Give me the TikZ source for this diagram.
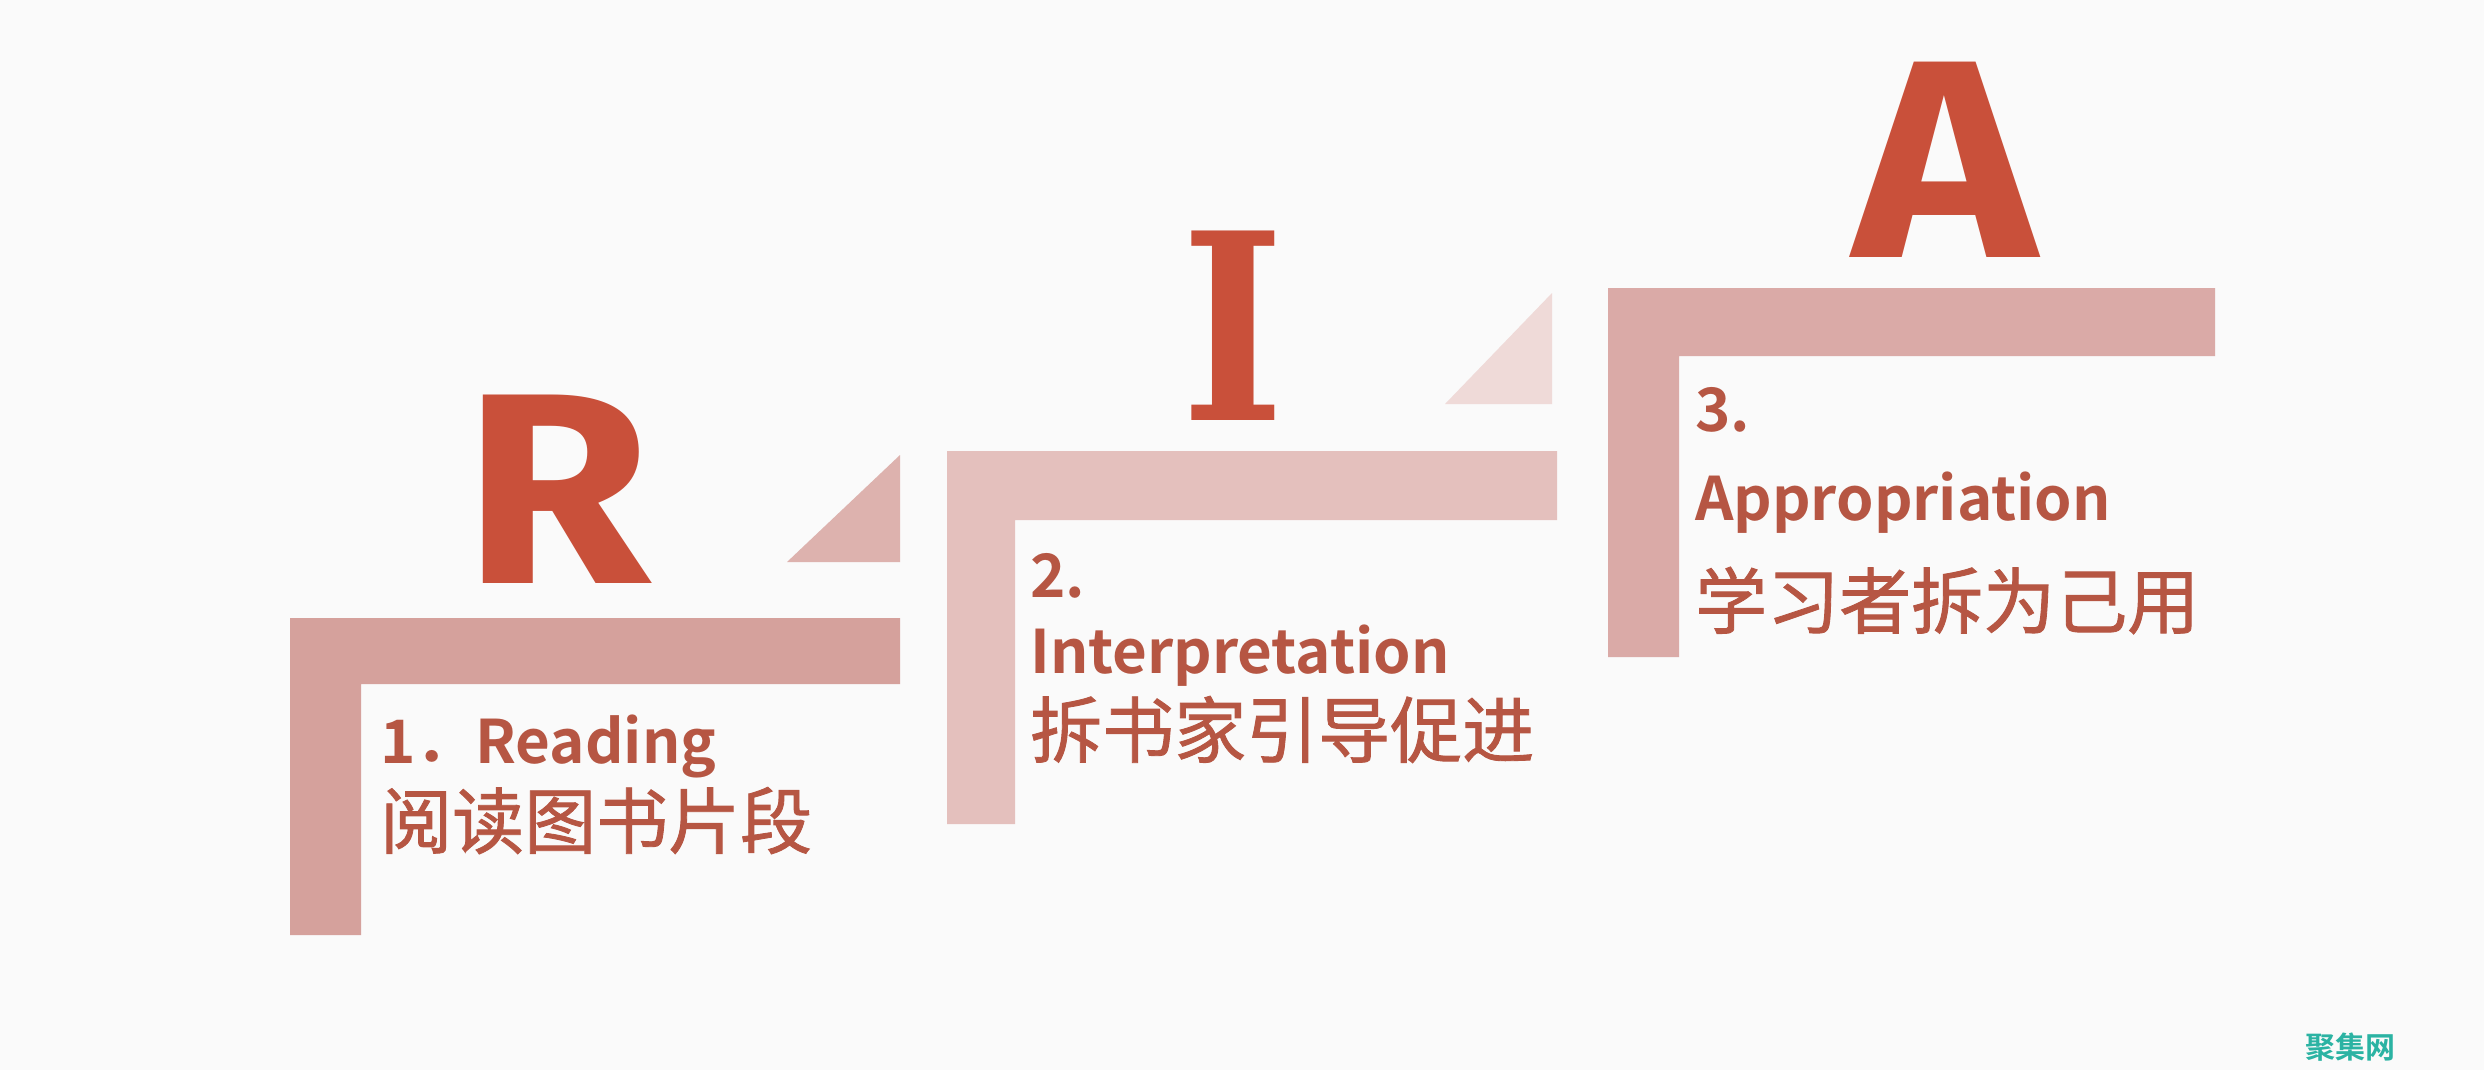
\documentclass[tikz,border=0pt]{standalone}
\usepackage{fontspec}
\setmainfont{Fira Sans}
\newfontfamily\cjk[FakeBold=1.2]{Noto Sans CJK SC}
\newfontfamily\cjkb{Noto Sans CJK SC Bold}
\newfontfamily\letterfont{Fira Sans Bold}
\newfontfamily\serifletter{DejaVu Serif Bold}
\definecolor{bg}{HTML}{FAFAFA}
\definecolor{barA}{HTML}{D5A19C}
\definecolor{barB}{HTML}{E4C0BD}
\definecolor{barC}{HTML}{DAAAA7}
\definecolor{triA}{HTML}{DDB2AE}
\definecolor{triB}{HTML}{EFDAD8}
\definecolor{letter}{HTML}{C9503A}
\definecolor{txt}{HTML}{B65643}
\definecolor{mark}{HTML}{2BB3A3}
\tikzset{
  bigletter/.style={inner sep=0pt, anchor=base, text=letter},
  labeltext/.style={inner sep=0pt, anchor=base west, text=txt, font=\cjkb\fontsize{60}{62}\selectfont},
  cntext/.style={inner sep=0pt, anchor=base west, text=txt, font=\cjk\fontsize{72}{74}\selectfont},
}
\begin{document}
\begin{tikzpicture}[x=1pt,y=-1pt]
\useasboundingbox (0,0) rectangle (2484,1070);
\fill[bg] (0,0) rectangle (2484,1070);
% Step 1
\fill[barA] (290,618) -- (900,618) -- (900,684) -- (361,684) -- (361,935) -- (290,935) -- cycle;
\fill[triA] (787,562) -- (900,455) -- (900,562) -- cycle;
\node[bigletter, font=\letterfont\fontsize{272}{272}\selectfont, xscale=1.12] (R) at (557,583) {R};
\node[labeltext] (t1) at (380,763) {1．Reading};
\node[cntext] (c1) at (380,848) {阅读图书片段};
% Step 2
\fill[barB] (947,451) -- (1557,451) -- (1557,520) -- (1015,520) -- (1015,824) -- (947,824) -- cycle;
\fill[triB] (1445,404) -- (1552,293) -- (1552,404) -- cycle;
\node[bigletter, font=\serifletter\fontsize{260}{260}\selectfont, xscale=0.85] (I) at (1233,420) {I};
\node[labeltext] (t2a) at (1030,597) {2.};
\node[labeltext] (t2b) at (1030,673) {Interpretation};
\node[cntext] (c2) at (1030,757) {拆书家引导促进};
% Step 3
\fill[barC] (1608,288) -- (2215,288) -- (2215,356) -- (1679,356) -- (1679,657) -- (1608,657) -- cycle;
\node[bigletter, font=\letterfont\fontsize{282}{282}\selectfont, xscale=1.1] (A) at (1945,257) {A};
\node[labeltext] (t3a) at (1695,431) {3.};
\node[labeltext] (t3b) at (1695,520) {Appropriation};
\node[cntext] (c3) at (1695,628) {学习者拆为己用};
% watermark
\node[inner sep=0pt, anchor=base west, text=mark, font=\cjkb\fontsize{30}{30}\selectfont] (wm) at (2305,1058) {聚集网};
\end{tikzpicture}
\end{document}
